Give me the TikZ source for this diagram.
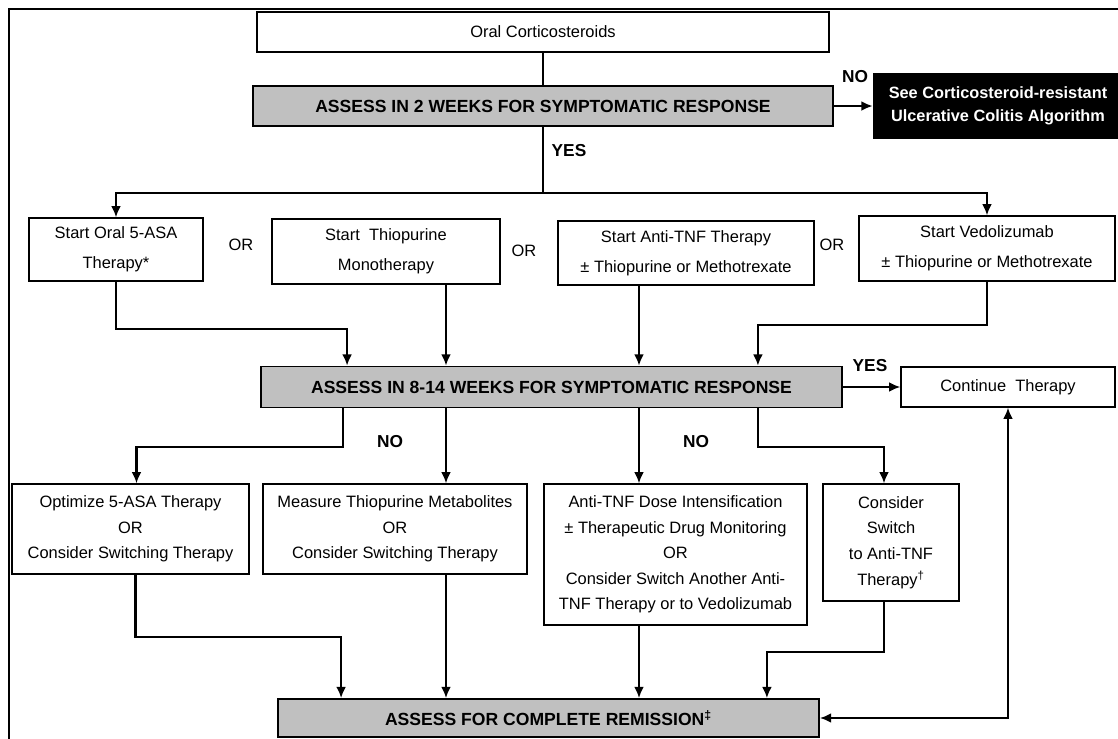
\documentclass[tikz,border=0pt]{standalone}
\usepackage{fontspec}
\setmainfont{Liberation Sans}
\usetikzlibrary{calc,arrows.meta}
\definecolor{boxgray}{RGB}{192,192,192}

\begin{document}
\begin{tikzpicture}
	[   x=0.025cm, y=0.025cm,
	    wbox/.style={draw=black,line width=0.9pt,fill=white,align=center,inner sep=0pt,font=\fontsize{11.7}{18.2}\selectfont},
	    sbox/.style={wbox,font=\fontsize{11.7}{21.6}\selectfont},
	    gbox/.style={draw=black,line width=1.2pt,fill=boxgray,align=center,inner sep=0pt,font=\bfseries\fontsize{12.5}{15}\selectfont},
	    lbl/.style={font=\bfseries\fontsize{12.3}{14}\selectfont,inner sep=0pt},
	    ortext/.style={font=\fontsize{11.7}{14}\selectfont,inner sep=0pt},
	]
	\tikzset{flow arrow/.style={draw,line width=1.5pt,-{Latex[length=8pt,width=7pt]}}}
	\tikzset{flow line/.style={draw,line width=1.5pt}}
	\useasboundingbox (0,0) rectangle (1118,-738);
	\draw[line width=1.6pt] (9,-9) rectangle (1140,-760);
	
	\node[wbox,minimum width=14.3cm,minimum height=1cm] (oral) at (543,-32) {Oral Corticosteroids};
	\node[gbox,minimum width=14.5cm,minimum height=1cm] (assess-1) at (543,-106) {ASSESS IN 2 WEEKS FOR SYMPTOMATIC RESPONSE};
	\node[draw=black,fill=black,text=white,align=center,inner sep=0pt,font=\bfseries\fontsize{11.6}{16.4}\selectfont,
	      minimum width=6.25cm,minimum height=1.625cm] (resist) at (998,-105.5) {See Corticosteroid-resistant\\Ulcerative Colitis Algorithm};
	
	% first choice
	\node[sbox,minimum width=4.35cm,minimum height=1.575cm] (start-1) at (116,-249.5) {Start Oral 5-ASA\\Therapy*};
	\node[sbox,minimum width=5.7cm,minimum height=1.625cm] (start-2) at (386,-251.5) {Start\ \ Thiopurine\\Monotherapy};
	\node[sbox,minimum width=6.4cm,minimum height=1.6cm] (start-3) at (686,-253) {Start Anti-TNF Therapy\\± Thiopurine or Methotrexate};
	\node[sbox,minimum width=6.4cm,minimum height=1.625cm] (start-4) at (987,-248.5) {Start Vedolizumab\\± Thiopurine or Methotrexate};
	\node[ortext] (or-1) at (241,-245) {OR};
	\node[ortext] (or-2) at (524,-251) {OR};
	\node[ortext] (or-3) at (832,-245) {OR};
	
	\node[gbox,minimum width=14.525cm,minimum height=1.025cm] (assess-2) at (551.5,-387) {ASSESS IN 8-14 WEEKS FOR SYMPTOMATIC RESPONSE};
	\node[wbox,minimum width=5.35cm,minimum height=1cm] (cont) at (1008,-387) {Continue\ \ Therapy};
	
	% second step
	\node[wbox,minimum width=5.925cm,minimum height=2.25cm] (next-1) at (130.5,-529) {Optimize 5-ASA Therapy\\OR\\Consider Switching Therapy};
	\node[wbox,minimum width=6.6cm,minimum height=2.25cm] (next-2) at (395,-529) {Measure Thiopurine Metabolites\\OR\\Consider Switching Therapy};
	\node[wbox,minimum width=6.575cm,minimum height=3.525cm] (next-3) at (675.5,-554.5) {Anti-TNF Dose Intensification\\± Therapeutic Drug Monitoring\\OR\\Consider Switch Another Anti-\\TNF Therapy or to Vedolizumab};
	\node[wbox,minimum width=3.4cm,minimum height=2.925cm] (next-4) at (891,-542.5) {Consider\\Switch\\to Anti-TNF\\Therapy\textsuperscript{†}};
	
	\node[gbox,minimum width=13.525cm,minimum height=0.95cm] (assess-3) at (548.5,-718) {ASSESS FOR COMPLETE REMISSION\textsuperscript{‡}};
	
	\node[lbl] (no-1) at (855,-77) {NO};
	\node[lbl] (yes-1) at (569,-151) {YES};
	\node[lbl] (yes-2) at (870,-366) {YES};
	\node[lbl] (no-2) at (390,-442) {NO};
	\node[lbl] (no-3) at (696,-442) {NO};
	
	\coordinate (split) at ($(assess-1.south)+(0,-66)$);
	\coordinate (b-out) at ($(start-2.south)+(60,0)$);
	\coordinate (c-out) at ($(start-3.south)+(-47,0)$);
	
	\path[flow line] (oral) -- (assess-1);
	\path[flow arrow] (assess-1.east) -- (assess-1.east -| resist.west);
	\path[flow line] (assess-1.south) -- (split);
	\foreach \x in {1,4}
	{
		\path[flow arrow] (split) -| (start-\x.north);
	}
	
	\path[flow arrow] (start-1.south) -- ++(0,-47) -| ($(assess-2.north west)+(87,0)$);
	\path[flow arrow] (b-out) -- (b-out |- assess-2.north);
	\path[flow arrow] (c-out) -- (c-out |- assess-2.north);
	\path[flow arrow] (start-4.south) -- ++(0,-43) -| ($(assess-2.north east)+(-85,0)$);
	\path[flow arrow] (assess-2.east) -- (assess-2.east -| cont.west);
	
	\path[flow arrow] ($(assess-2.south west)+(83,0)$) -- ++(0,-39) -| ($(next-1.north)+(6,0)$);
	\path[flow arrow] (b-out |- assess-2.south) -- (b-out |- next-2.north);
	\path[flow arrow] (c-out |- assess-2.south) -- (c-out |- next-3.north);
	\path[flow arrow] ($(assess-2.south east)+(-85,0)$) -- ++(0,-39) -| ($(next-4.north)+(-7,0)$);
	
	\path[flow arrow] ($(next-1.south)+(5,0)$) -- ++(0,-62) -| ($(assess-3.north west)+(64,0)$);
	\path[flow arrow] (b-out |- next-2.south) -- (b-out |- assess-3.north);
	\path[flow arrow] (c-out |- next-3.south) -- (c-out |- assess-3.north);
	\path[flow arrow] ($(next-4.south)+(-7,0)$) -- ++(0,-50) -| ($(assess-3.north east)+(-53,0)$);
	\path[flow line,{Latex[length=8pt,width=7pt]}-{Latex[length=8pt,width=7pt]}] (assess-3.east) -| (cont.south);
\end{tikzpicture}
\end{document}
